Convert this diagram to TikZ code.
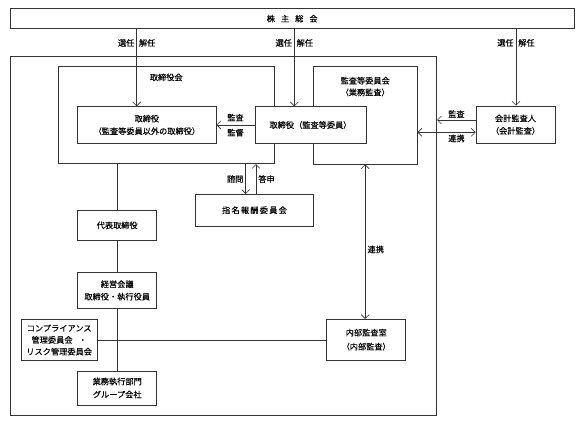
\documentclass[tikz,border=0pt]{standalone}
\usepackage{fontspec}
\setmainfont{Noto Sans CJK JP}[FakeBold=0.12]
\usetikzlibrary{arrows.meta}

\begin{document}
\begin{tikzpicture}[x=1pt,y=-1pt,
		ln/.style={draw=black!80,line width=.65pt},
		bx/.style={ln,fill=white,inner sep=0pt,align=center,font=\fontsize{8.2}{12.5}\selectfont},
		arr/.style={ln,-{Straight Barb[length=4pt,width=8pt]}},
		darr/.style={ln,{Straight Barb[length=4pt,width=8pt]}-{Straight Barb[length=4pt,width=8pt]}},
		lbl/.style={font=\fontsize{8.2}{11.7}\selectfont,inner sep=2pt,align=center}]
	\useasboundingbox (0,0) rectangle (585,427);
	\node[bx,minimum width=564.3pt,minimum height=20pt] (kabu) at (292.2,18.7) {株\hspace{6pt}主\hspace{6pt}総\hspace{6pt}会};
	\node[bx,minimum width=426.2pt,minimum height=358.8pt] (outer) at (223.6,236.1) {};
	\node[bx,minimum width=216pt,minimum height=97pt] (trb) at (166.3,115.2) {};
	\node[bx,minimum width=103.7pt,minimum height=97.3pt] (kansa) at (365.2,115.35) {};
	\node[lbl] (trbl) at ([yshift=-11pt]trb.north) {取締役会};
	\node[lbl] (kansal) at ([yshift=-20.2pt]kansa.north) {監査等委員会\\（業務監査）};
	\node[bx,minimum width=138.3pt,minimum height=36.6pt] (tori) at (146.85,125) {取締役\\（監査等委員以外の取締役）};
	\node[bx,minimum width=111pt,minimum height=36.6pt] (tori2) at (310.5,125) {取締役（監査等委員）};
	\node[bx,minimum width=79pt,minimum height=37.3pt] (kaikei) at (515.5,124.7) {会計監査人\\（会計監査）};
	\node[bx,minimum width=117.6pt,minimum height=31.7pt] (shimei) at (254.5,210.2) {{\addfontfeatures{LetterSpace=15}指名報酬委員会}};
	\node[bx,minimum width=79pt,minimum height=30.7pt] (daihyo) at (117.2,225.4) {代表取締役};
	\node[bx,minimum width=79pt,minimum height=35.6pt] (keiei) at (117.2,290.5) {経営会議\\取締役・執行役員};
	\node[bx,minimum width=76.3pt,minimum height=41.4pt,font=\fontsize{8.2}{11.7}\selectfont] (comp) at (59.2,340) {コンプライアンス\\管理委員会\hspace{6pt}・\\リスク管理委員会};
	\node[bx,minimum width=79pt,minimum height=40.7pt,font=\fontsize{8.2}{14}\selectfont] (naibu) at (366.2,339.7) {内部監査室\\（内部監査）};
	\node[bx,minimum width=79pt,minimum height=34pt,font=\fontsize{8.2}{13}\selectfont] (gyomu) at (117.2,388) {業務執行部門\\グループ会社};
	\coordinate (s1) at (136.7,0);
	\coordinate (s2) at (294.3,0);
	\coordinate (s3) at (516,0);
	\coordinate (c1) at (245.7,0);
	\coordinate (c2) at (256,0);
	\coordinate (ka) at ([yshift=4.7pt]kaikei.west);
	\coordinate (kr) at ([yshift=-7.6pt]kaikei.west);
	\foreach\s/\t in {s1/tori,s2/tori2,s3/kaikei} {
		\draw[arr] (kabu.south -| \s) -- node[lbl,pos=.18,left]{選任} node[lbl,pos=.18,right]{解任} (\t.north -| \s);
	}
	\draw[arr] (tori2.west) -- node[lbl,above=1.5pt]{監査} node[lbl,below=1.5pt]{監督} (tori.east);
	\draw[arr] (trb.south -| c1) -- node[lbl,left]{諮問} (shimei.north -| c1);
	\draw[arr] (shimei.north -| c2) -- node[lbl,right]{答申} (trb.south -| c2);
	\draw[arr] (ka) -- node[lbl,above]{監査} (ka -| outer.east);
	\draw[darr] (kr -| kansa.east) -- node[lbl,pos=.67,below]{連携} (kr);
	\draw[darr] (kansa.south) -- node[lbl,pos=.55,right]{連携} (kansa.south |- naibu.north);
	\draw[ln] (trb.south -| daihyo.north) -- (daihyo.north);
	\draw[ln] (daihyo.south) -- (keiei.north);
	\draw[ln] (keiei.south) -- (gyomu.north);
	\draw[ln] (comp.east) -- (comp.east -| naibu.west);
\end{tikzpicture}
\end{document}
